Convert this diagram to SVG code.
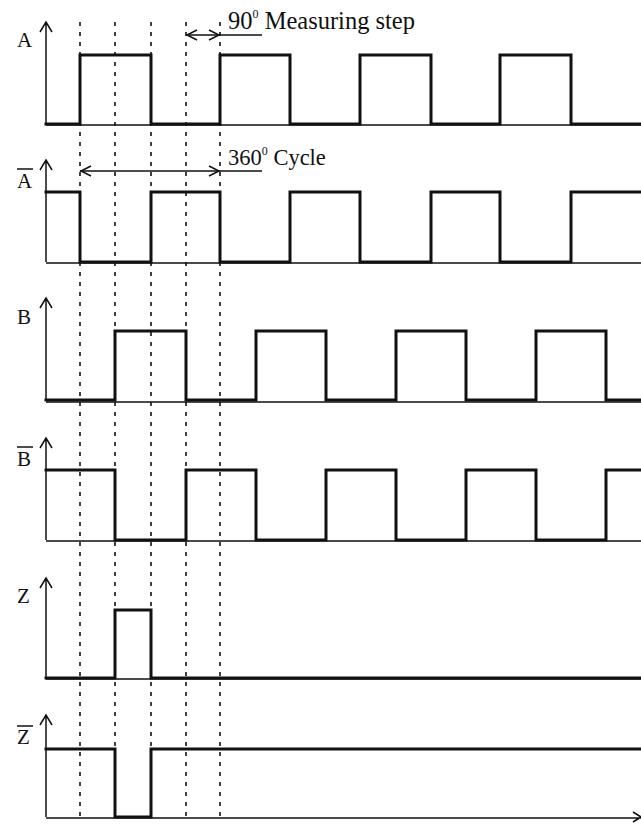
<svg xmlns="http://www.w3.org/2000/svg" width="641" height="824" viewBox="0 0 641 824">
<style>
.sig{fill:none;stroke:#111;stroke-width:3;stroke-linejoin:miter;stroke-linecap:square}
.ax{fill:none;stroke:#111;stroke-width:1.5}
.dash{fill:none;stroke:#111;stroke-width:1.6;stroke-dasharray:4 6}
.lbl{font-family:"Liberation Serif","Times New Roman",serif;font-size:21px;fill:#111}
.ann{font-family:"Liberation Serif","Times New Roman",serif;font-size:24.5px;fill:#111}
.ann2{font-family:"Liberation Serif","Times New Roman",serif;font-size:22.5px;fill:#111}
.sup{font-size:12px}
</style>
<rect width="641" height="824" fill="#fff"/>
<g id="connectors">
<line class="dash" x1="80" y1="22" x2="80" y2="820"/>
<line class="dash" x1="115" y1="22" x2="115" y2="820"/>
<line class="dash" x1="151" y1="22" x2="151" y2="820"/>
<line class="dash" x1="186" y1="22" x2="186" y2="820"/>
<line class="dash" x1="220" y1="22" x2="220" y2="820"/>
</g>
<g id="step">
<line class="ax" x1="186" y1="35" x2="262" y2="35"/>
<path class="ax" d="M197,30 L187,35 L197,40 M209,30 L219,35 L209,40"/>
<text class="ann" x="228" y="29">90<tspan class="sup" dy="-11">0</tspan><tspan dy="11"> Measuring step</tspan></text>
</g>
<g id="cycle">
<line class="ax" x1="80" y1="171" x2="262" y2="171"/>
<path class="ax" d="M91,166 L81,171 L91,176 M209,166 L219,171 L209,176"/>
<text class="ann2" x="228" y="165">360<tspan class="sup" dy="-10">0</tspan><tspan dy="10"> Cycle</tspan></text>
</g>
<g id="A">
<text class="lbl" x="17" y="47">A</text>
<path class="ax" d="M46,124 V22 M40,32 L46,22 L52,32 M46,125 H641"/>
<path class="sig" d="M46,124 H80 V55 H151 V124 H220 V55 H290 V124 H360 V55 H431 V124 H500 V55 H571 V124 H641"/>
</g>
<g id="Abar">
<text class="lbl" x="17" y="188">A</text>
<line class="ax" x1="17" y1="169" x2="33" y2="169"/>
<path class="ax" d="M46,262 V160 M40,170 L46,160 L52,170 M46,263 H641"/>
<path class="sig" d="M46,192 H80 V262 H151 V192 H220 V262 H290 V192 H360 V262 H431 V192 H500 V262 H571 V192 H641"/>
</g>
<g id="B">
<text class="lbl" x="17" y="324">B</text>
<path class="ax" d="M46,400 V298 M40,308 L46,298 L52,308 M46,402 H641"/>
<path class="sig" d="M46,400 H115 V331 H186 V400 H256 V331 H326 V400 H396 V331 H466 V400 H536 V331 H606 V400 H641"/>
</g>
<g id="Bbar">
<text class="lbl" x="17" y="466">B</text>
<line class="ax" x1="17" y1="447" x2="33" y2="447"/>
<path class="ax" d="M46,540 V438 M40,448 L46,438 L52,448 M46,541 H641"/>
<path class="sig" d="M46,470 H115 V540 H186 V470 H256 V540 H326 V470 H396 V540 H466 V470 H536 V540 H606 V470 H641"/>
</g>
<g id="Z">
<text class="lbl" x="17" y="603">Z</text>
<path class="ax" d="M46,678 V578 M40,588 L46,578 L52,588 M46,679 H641"/>
<path class="sig" d="M46,678 H115 V610 H151 V678 H641"/>
</g>
<g id="Zbar">
<text class="lbl" x="17" y="744">Z</text>
<line class="ax" x1="17" y1="726" x2="33" y2="726"/>
<path class="ax" d="M46,817 V715 M40,725 L46,715 L52,725 M46,818 H641 M633,812 L641,817 L633,822"/>
<path class="sig" d="M46,749 H115 V817 H151 V749 H641"/>
</g>
</svg>
